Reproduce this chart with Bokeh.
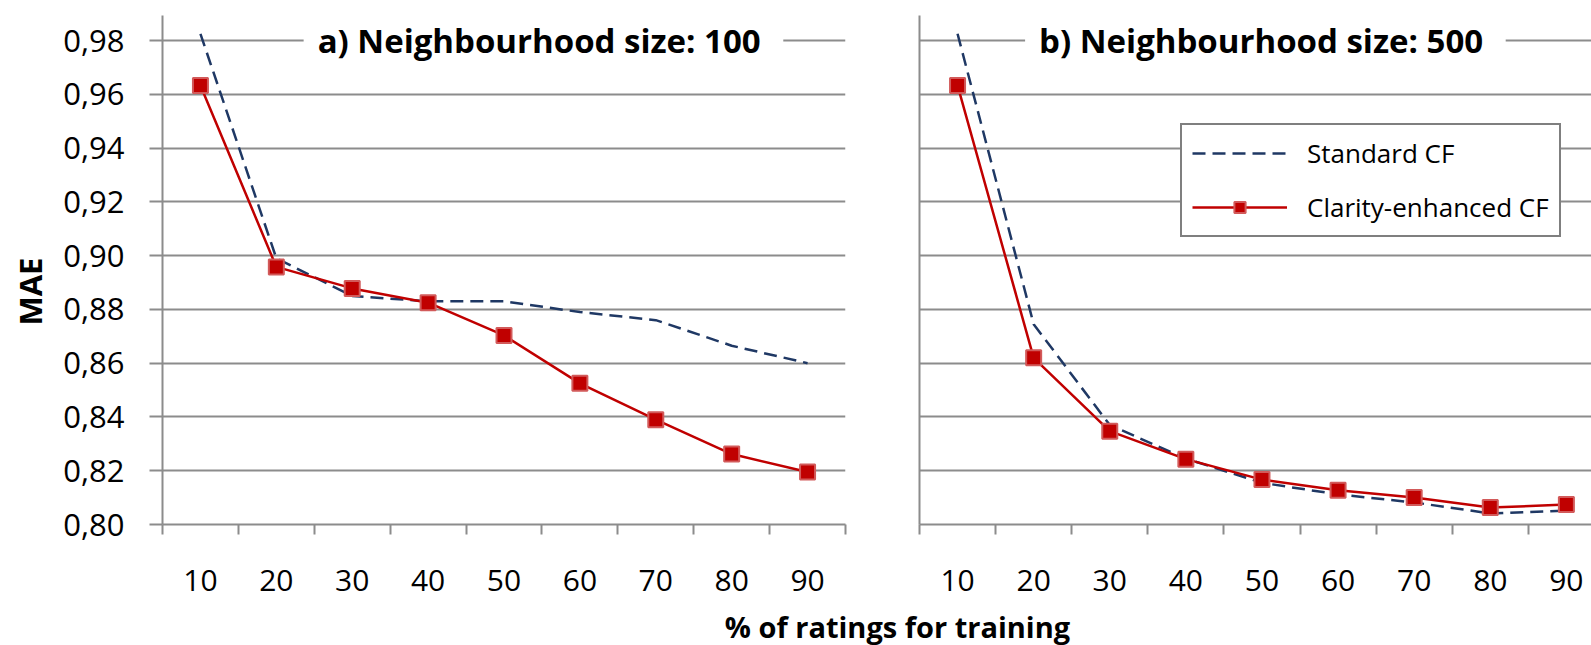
from bokeh.plotting import figure
from bokeh.models import (FixedTicker, CustomJSTickFormatter, Label, Legend, LegendItem,
                          Range1d, Title)
from bokeh.layouts import row, column
from bokeh.embed import file_html
from bokeh.resources import INLINE

# ---------------- data ----------------
train_pct = [10, 20, 30, 40, 50, 60, 70, 80, 90]
std_100 = [0.9825, 0.8990, 0.8850, 0.8830, 0.8830, 0.8790, 0.8760, 0.8665, 0.8600]
clar_100 = [0.9633, 0.8958, 0.8878, 0.8825, 0.8703, 0.8525, 0.8390, 0.8262, 0.8195]
std_500 = [0.9825, 0.8745, 0.8370, 0.8245, 0.8155, 0.8112, 0.8082, 0.8041, 0.8052]
clar_500 = [0.9633, 0.8620, 0.8347, 0.8243, 0.8167, 0.8127, 0.8100, 0.8063, 0.8074]
y_ticks = [0.80, 0.82, 0.84, 0.86, 0.88, 0.90, 0.92, 0.94, 0.96, 0.98]
panel_titles = ["a)  Neighbourhood size: 100", "b)  Neighbourhood size: 500"]
series_names = ["Standard CF", "Clarity-enhanced CF"]
x_title = "% of ratings for training"
y_title = "MAE"

FONT = "Open Sans"
GRAY = "#8C8C8C"
NAVY = "#1F3864"
RED = "#C00000"
RED_EDGE = "#D25A5A"

boundaries = [x - 5 for x in train_pct] + [train_pct[-1] + 5]
Y_TOP = 0.9893


def make_panel(std, clar, title, title_x, width, height, mb_left, mb_right,
               mb_top, mb_bottom, show_labels, x_end):
    p = figure(width=width, height=height,
               min_border_left=mb_left, min_border_right=mb_right,
               min_border_top=mb_top, min_border_bottom=mb_bottom,
               x_range=Range1d(5, x_end), y_range=Range1d(0.80, Y_TOP),
               toolbar_location=None, output_backend="svg")
    p.outline_line_color = None
    p.background_fill_color = "white"
    p.border_fill_color = "white"
    p.xgrid.visible = False
    p.ygrid.ticker = FixedTicker(ticks=y_ticks)
    p.ygrid.grid_line_color = GRAY
    p.ygrid.grid_line_width = 2

    xa = p.xaxis[0]
    xa.ticker = FixedTicker(ticks=train_pct, minor_ticks=boundaries)
    xa.major_tick_out = 0
    xa.major_tick_in = 0
    xa.minor_tick_out = 10
    xa.minor_tick_in = 0
    xa.minor_tick_line_color = GRAY
    xa.minor_tick_line_width = 2
    xa.axis_line_color = GRAY
    xa.axis_line_width = 2
    xa.major_label_text_font = FONT
    xa.major_label_text_font_size = "30px"
    xa.major_label_text_color = "black"
    xa.major_label_standoff = 35

    ya = p.yaxis[0]
    ya.ticker = FixedTicker(ticks=y_ticks)
    ya.axis_line_color = GRAY
    ya.axis_line_width = 2
    ya.major_tick_line_color = GRAY
    ya.major_tick_line_width = 2
    ya.major_tick_in = 0
    if show_labels:
        ya.major_tick_out = 13
        ya.formatter = CustomJSTickFormatter(code="return tick.toFixed(2).replace('.', ',');")
        ya.major_label_text_font = FONT
        ya.major_label_text_font_size = "31px"
        ya.major_label_text_color = "black"
        ya.major_label_standoff = 25
    else:
        ya.major_tick_out = 0
        ya.formatter = CustomJSTickFormatter(code="return '';")
        ya.major_label_standoff = 0

    l_std = p.line(train_pct, std, line_color=NAVY, line_width=2.5, line_dash="13 7")
    l_clar = p.line(train_pct, clar, line_color=RED, line_width=2.5)
    s_clar = p.scatter(train_pct, clar, marker="square", size=15, fill_color=RED,
                       line_color=RED_EDGE, line_width=2)

    p.add_layout(Label(x=title_x, y=y_ticks[-1], text=title, text_align="center",
                       text_baseline="middle", text_font=FONT, text_font_style="bold",
                       text_font_size="33px", text_color="black",
                       background_fill_color="white", padding=14))
    return p, l_std, l_clar, s_clar


# left panel: frame x 160..845, y 15..524 ; right panel: frame x 919..1591
p1, _, _, _ = make_panel(std_100, clar_100, panel_titles[0], 55.2,
                         888, 608, 160, 43, 15, 84, True, 95)
p2, l_std, l_clar, s_clar = make_panel(std_500, clar_500, panel_titles[1], 50.45,
                                       703, 608, 31, 0, 15, 84, False, 93.3)

p1.add_layout(Title(text=y_title, align="left", offset=199, standoff=16,
                    vertical_align="top",
                    text_font=FONT, text_font_style="bold", text_font_size="31px",
                    text_color="black"), "left")

legend = Legend(items=[LegendItem(label=series_names[0], renderers=[l_std]),
                       LegendItem(label=series_names[1], renderers=[l_clar, s_clar])],
                location=(261, 287))
legend.border_line_color = "black"
legend.border_line_width = 2
legend.background_fill_color = "white"
legend.background_fill_alpha = 1
legend.label_text_font = FONT
legend.label_text_font_size = "26px"
legend.label_text_color = "black"
legend.glyph_width = 95
legend.glyph_height = 28
legend.label_standoff = 20
legend.spacing = 18
legend.padding = 10
legend.margin = 0
p2.add_layout(legend)

p3 = figure(width=1591, height=37, x_range=Range1d(0, 1591), y_range=Range1d(0, 37),
            min_border_left=0, min_border_right=0, min_border_top=0, min_border_bottom=0,
            title=None, toolbar_location=None, output_backend="svg")
p3.axis.visible = False
p3.grid.visible = False
p3.outline_line_color = None
p3.add_layout(Label(x=897, y=19, text=x_title, text_align="center",
                    text_baseline="middle", text_font=FONT, text_font_style="bold",
                    text_font_size="29px", text_color="black"))

layout = column(row(p1, p2), p3)
open("out.html", "w").write(file_html(layout, INLINE))
